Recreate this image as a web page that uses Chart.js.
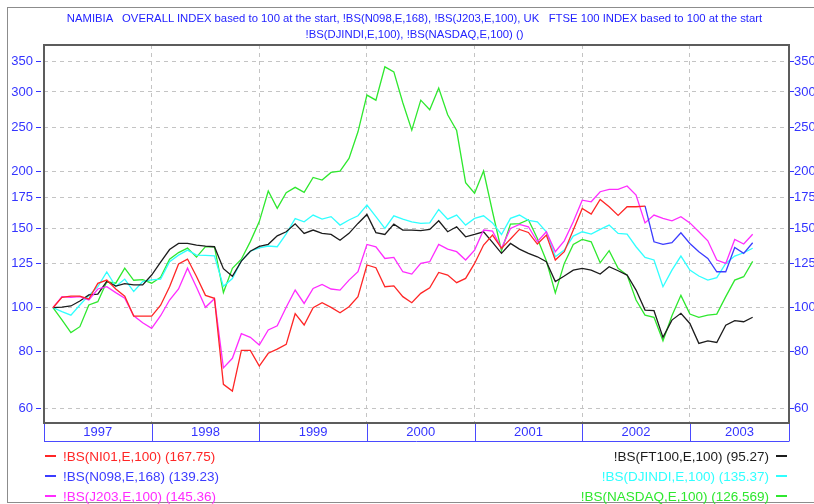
<!DOCTYPE html>
<html>
<head>
<meta charset="utf-8">
<script src="https://cdn.jsdelivr.net/npm/chart.js@4.4.1/dist/chart.umd.min.js"></script>
<style>
  body { margin: 0; background: #fff; font-family: "Liberation Sans", Arial, sans-serif; }
  #wrap { position: relative; width: 814px; height: 504px; overflow: hidden; }
  #frame { position: absolute; left: 7px; top: 7px; width: 830px; height: 496px; border: 1px solid #8c8c8c; box-sizing: border-box; }
  #chart { position: absolute; left: 0; top: 0; }
  .title { position: absolute; left: 0; width: 829px; text-align: center; color: #2424ff; font-size: 11.3px; white-space: pre; line-height: 13px; }
  .leg { position: absolute; font-size: 13.5px; line-height: 16px; height: 16px; white-space: pre; }
  .leg i { display: inline-block; width: 11px; height: 2px; vertical-align: 4px; }
  .leg.l i { margin-right: 7px; }
  .leg.r { text-align: right; }
  .leg.r i { margin-left: 7px; }
</style>
</head>
<body>
<div id="wrap">
  <div id="frame"></div>
  <canvas id="chart" width="814" height="504"></canvas>
  <div class="title" style="top:12px">NAMIBIA   OVERALL INDEX based to 100 at the start, !BS(N098,E,168), !BS(J203,E,100), UK   FTSE 100 INDEX based to 100 at the start</div>
  <div class="title" style="top:28px">!BS(DJINDI,E,100), !BS(NASDAQ,E,100) ()</div>
  <div id="legend"></div>
</div>
<script>
// month-end values Jan 1997 .. Jul 2003, every index rebased to 100 (N098 starts at 168)
const YEARS = ["1997", "1998", "1999", "2000", "2001", "2002", "2003"];
const Y_TICKS = [60, 80, 100, 125, 150, 175, 200, 250, 300, 350];

const NI01 = [100, 105.4, 106.1, 106.1, 104.5, 113.2, 115.1, 110, 106, 95.8, 95.8, 95.8,
  101.3, 111.3, 125, 128.1, 117.2, 106.5, 104.9, 67.7, 65.4, 80.5, 80.5, 74.3,
  79.3, 81, 83, 97, 91.6, 100, 102.6, 100.2, 97.5, 100.5, 105.8, 124.3,
  122.6, 111.3, 111.8, 105.8, 102.6, 107.6, 110.7, 119.7, 118.1, 113.6, 116.1, 125.3,
  137.6, 144.7, 135.3, 141.9, 149, 146.7, 138.3, 144.7, 127.5, 133, 148.5, 165.8,
  161.1, 173.6, 167.2, 160, 167.2, 167.2, 167.75,
  null, null, null, null, null, null, null, null, null, null, null, null];

const N098 = [null, null, null, null, null, null, null, null, null, null, null, null,
  null, null, null, null, null, null, null, null, null, null, null, null,
  null, null, null, null, null, null, null, null, null, null, null, null,
  null, null, null, null, null, null, null, null, null, null, null, null,
  null, null, null, null, null, null, null, null, null, null, null, null,
  null, null, null, null, null, null, 168,
  139.9, 138, 139.2, 146.5, 138.7, 133, 128.5, 120.1, 120.1, 135.9, 131.9, 139.23];

const J203 = [100, 105.8, 105.4, 105.8, 104, 110, 111.3, 108, 105, 96, 92.6, 90,
  96, 104, 110, 122.3, 111, 100.2, 104.7, 73.6, 77.3, 87.6, 86, 82.7,
  89.3, 91.2, 100.2, 109.4, 102.2, 110.3, 112.6, 110, 109.4, 115.1, 120.1, 138,
  136.4, 128.5, 129.2, 120.1, 118.7, 125.3, 126.4, 138, 134.8, 133, 127.5, 134.1,
  148.5, 147.7, 135.3, 149.7, 152.8, 151, 139.9, 147.2, 133, 140.6, 154.9, 172.9,
  171.5, 180.5, 182.6, 182.6, 185.9, 177.4, 154, 160.3, 157.6, 155.7, 159, 154,
  147.2, 140.6, 127.5, 125.3, 141.6, 138.3, 145.36];

const FT100 = [100, 100.3, 100.9, 103.5, 106.7, 107.2, 114.4, 111.6, 113, 112.3, 112.3, 118.1,
  126.2, 134.5, 138.7, 138.7, 137.5, 136.8, 136.4, 122, 117.4, 126.8, 133.3, 136.6,
  138.1, 144.2, 147.2, 153.3, 146, 148.5, 146, 145.2, 141, 146, 153.6, 160.8,
  146.6, 145.2, 153, 148.5, 148.5, 148, 149, 155.7, 147.2, 151, 143.5, 145.2,
  147.2, 139.5, 131.9, 138.7, 134.8, 131.9, 129.6, 126.4, 114.3, 117.5, 121.1, 122.2,
  121.1, 118.7, 123.2, 120.7, 118.1, 109.4, 98.8, 98.5, 86, 93.9, 97.2, 92.3,
  83.4, 84.5, 83.8, 91.5, 93.6, 93.1, 95.27];

const DJINDI = [100, 98, 96.3, 101.4, 106.5, 111.3, 120, 111.4, 115.7, 108.6, 114.2, 115.2,
  115.7, 126.4, 130.7, 134.1, 130.7, 130.5, 130.2, 111.5, 116, 127, 133.3, 135.6,
  136.9, 136.4, 145.6, 157.4, 154.9, 160.3, 157, 159, 152.3, 156.3, 159.7, 168.6,
  159, 149.7, 159.7, 157, 154.9, 153.6, 154, 164.9, 157, 160.3, 152.3, 157.6,
  159.7, 154, 145.2, 157.6, 160.3, 156, 154.8, 147.2, 129.6, 134.1, 144, 147.2,
  145.5, 149, 152.3, 146, 145.5, 136.4, 129.2, 127.5, 111.3, 121.1, 130.1, 121.1,
  117.5, 115.1, 116.5, 125.3, 130.1, 132.3, 135.37];

const NASDAQ = [100, 94, 88.1, 90.8, 101.4, 103.1, 114.2, 113.3, 122.3, 115, 115.4, 113.3,
  116.7, 128, 132.4, 135.5, 129.4, 136.5, 136.4, 108, 122.2, 128, 140, 155,
  181.2, 165.8, 179.7, 184.6, 179.9, 194.1, 191.5, 199.1, 200.5, 213.8, 244.9, 295.2,
  287.7, 340.9, 332.3, 284, 247, 287.7, 274, 306, 267, 246.5, 189, 179.2,
  200.6, 163, 133.5, 153.1, 153.5, 156.5, 142.3, 127, 107.8, 125.3, 138, 141.6,
  139.9, 125.7, 133.7, 122.2, 118.1, 104, 96.3, 95.2, 84.5, 96, 106.5, 96.8,
  95.2, 96.3, 96.8, 105.8, 115.1, 117.1, 126.569];

// log axis limits and the last month shown on the x axis (months from Jan 1997 start)
const Y_MIN = 55.6, Y_MAX = 381;
const X_MAX = 83.05;
const YEAR_EDGES = [0, 12, 24, 36, 48, 60, 72, X_MAX];
const YEAR_MIDS = [6, 18, 30, 42, 54, 66, (72 + X_MAX) / 2];

const BLUE = "#3434ff";

const series = [
  { name: "!BS(NI01,E,100)", data: NI01, color: "#ff2626", side: "l" },
  { name: "!BS(N098,E,168)", data: N098, color: "#3c3cff", side: "l" },
  { name: "!BS(J203,E,100)", data: J203, color: "#ff2cff", side: "l" },
  { name: "!BS(FT100,E,100)", data: FT100, color: "#1c1c1c", side: "r" },
  { name: "!BS(DJINDI,E,100)", data: DJINDI, color: "#30ffff", side: "r" },
  { name: "!BS(NASDAQ,E,100)", data: NASDAQ, color: "#2ee82e", side: "r" },
];

const lastValue = (arr) => arr.filter((v) => v !== null).pop();

// legend rows: three on the left, three right-aligned
const legend = document.getElementById("legend");
const rowTop = [449, 469, 489];
series.forEach((s, k) => {
  const row = document.createElement("div");
  row.className = "leg " + s.side;
  row.style.color = s.color;
  row.style.top = rowTop[k % 3] + "px";
  const mark = `<i style="background:${s.color}"></i>`;
  const text = `${s.name} (${lastValue(s.data)})`;
  if (s.side === "l") {
    row.style.left = "45px";
    row.innerHTML = mark + text;
  } else {
    row.style.right = "27px";
    row.innerHTML = text + mark;
  }
  legend.appendChild(row);
});

// plot border plus the boxed year strip under it
const framePlugin = {
  id: "framePlugin",
  afterDraw(chart) {
    const { ctx, chartArea: a, scales } = chart;
    const x = scales.x;
    const stripBottom = a.bottom + 18.5;
    ctx.save();
    ctx.strokeStyle = "#4a4aff";
    ctx.lineWidth = 1;
    ctx.beginPath();
    ctx.moveTo(a.left, stripBottom);
    ctx.lineTo(a.right, stripBottom);
    YEAR_EDGES.forEach((m) => {
      const px = Math.round(x.getPixelForValue(m)) + 0.5;
      ctx.moveTo(px, a.bottom);
      ctx.lineTo(px, stripBottom);
    });
    ctx.stroke();
    ctx.strokeStyle = "#5c5c5c";
    ctx.lineWidth = 2;
    ctx.strokeRect(a.left, a.top, a.right - a.left, a.bottom - a.top);
    ctx.restore();
  },
};

const yAxis = (position) => ({
  type: "logarithmic",
  position,
  min: Y_MIN,
  max: Y_MAX,
  bounds: "data",
  afterBuildTicks: (s) => { s.ticks = Y_TICKS.map((v) => ({ value: v })); },
  afterFit: (s) => { s.width = position === "left" ? 44 : 25; },
  border: { display: false, dash: [4, 4] },
  grid: {
    color: "#c4c4c4",
    drawOnChartArea: position === "left",
    tickColor: BLUE,
    tickLength: position === "left" ? 8 : 5,
    tickBorderDash: position === "left" ? [5, 3] : [],
  },
  ticks: {
    color: BLUE,
    font: { family: "Liberation Sans", size: 13 },
    padding: position === "left" ? 3 : 0,
    autoSkip: false,
    callback: (v) => String(v),
  },
});

new Chart(document.getElementById("chart"), {
  type: "line",
  data: {
    datasets: series.map((s) => ({
      label: s.name,
      data: s.data.map((v, i) => ({ x: i + 1, y: v })),
      borderColor: s.color,
      borderWidth: 1.3,
      pointRadius: 0,
      tension: 0,
      spanGaps: false,
    })),
  },
  options: {
    responsive: false,
    animation: false,
    devicePixelRatio: 1,
    layout: { padding: { top: 45, left: 0, right: 0, bottom: 0 } },
    plugins: { legend: { display: false }, tooltip: { enabled: false } },
    scales: {
      x: {
        type: "linear",
        position: "bottom",
        min: 0,
        max: X_MAX,
        bounds: "data",
        afterBuildTicks: (s) => { s.ticks = YEAR_MIDS.map((v) => ({ value: v })); },
        afterFit: (s) => { s.height = 81; },
        border: { display: false },
        grid: { display: false, drawTicks: false },
        ticks: {
          color: BLUE,
          font: { family: "Liberation Sans", size: 13 },
          padding: 2,
          maxRotation: 0,
          autoSkip: false,
          callback: (v, i) => YEARS[i],
        },
      },
      xg: {
        type: "linear",
        position: "bottom",
        min: 0,
        max: X_MAX,
        bounds: "data",
        afterBuildTicks: (s) => { s.ticks = YEAR_EDGES.slice(1, -1).map((v) => ({ value: v })); },
        afterFit: (s) => { s.height = 0; },
        border: { display: false, dash: [4, 4] },
        grid: { color: "#c4c4c4", drawTicks: false },
        ticks: { display: false },
      },
      y: yAxis("left"),
      y2: yAxis("right"),
    },
  },
  plugins: [framePlugin],
});
</script>
</body>
</html>
